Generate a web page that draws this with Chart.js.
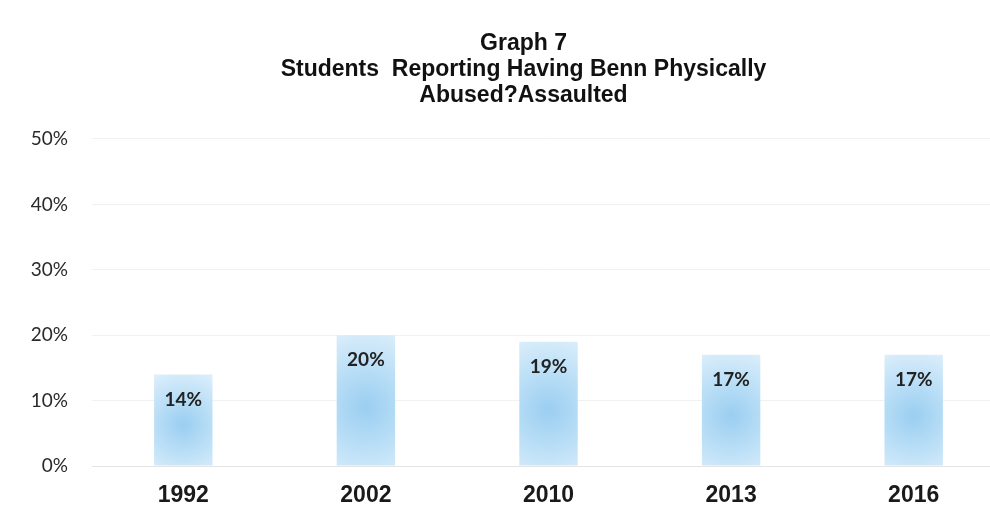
<!DOCTYPE html>
<html>
<head>
<meta charset="utf-8">
<script src="https://cdn.jsdelivr.net/npm/chart.js@4.4.1/dist/chart.umd.min.js"></script>
<style>
  html, body { margin: 0; padding: 0; background: #fff; overflow: hidden; }
  #wrap { width: 990px; height: 514px; overflow: hidden; }
</style>
</head>
<body>
<div id="wrap"><canvas id="graph7" width="1010" height="514"></canvas></div>
<script>
// Data
const years = ["1992", "2002", "2010", "2013", "2016"];
const percentReporting = [14, 20, 19, 17, 17];
const yTicks = [0, 10, 20, 30, 40, 50];

const titleLines = [
  "Graph 7",
  "Students  Reporting Having Benn Physically",
  "Abused?Assaulted",
];

// Soft blue glow for each bar, centred in the bar
function barFill(context) {
  const chart = context.chart;
  const x = chart.scales.x;
  const y = chart.scales.y;
  if (!x || !y || context.dataIndex === undefined) return "#bcdff6";
  const v = percentReporting[context.dataIndex];
  const cx = x.getPixelForValue(context.dataIndex);
  const top = y.getPixelForValue(v);
  const bottom = y.getPixelForValue(0);
  if (![cx, top, bottom].every(Number.isFinite) || bottom - top <= 0) return "#bcdff6";
  const cy = top + (bottom - top) * 0.55;
  const g = chart.ctx.createRadialGradient(cx, cy, 2, cx, cy, (bottom - top) * 0.65);
  g.addColorStop(0, "#9ccff1");
  g.addColorStop(0.5, "#bde0f7");
  g.addColorStop(1, "#e0f0fb");
  return g;
}

// Value labels just below the top of each bar
const valueLabels = {
  id: "valueLabels",
  afterDatasetsDraw(chart) {
    const ctx = chart.ctx;
    const meta = chart.getDatasetMeta(0);
    ctx.save();
    ctx.font = "bold 19px Lato, 'Open Sans', sans-serif";
    ctx.fillStyle = "#222";
    ctx.textAlign = "center";
    ctx.textBaseline = "middle";
    meta.data.forEach((bar, i) => {
      ctx.fillText(percentReporting[i] + "%", bar.x, bar.y + 25);
    });
    ctx.restore();
  },
};

// nudge the title to the right like in the original
const shiftTitle = {
  id: "shiftTitle",
  afterLayout(chart) {
    if (chart.titleBlock) {
      chart.titleBlock.left += 21;
      chart.titleBlock.right += 21;
    }
  },
};

const ctx = document.getElementById("graph7").getContext("2d");

const graph7 = new Chart(ctx, {
  type: "bar",
  data: {
    labels: years,
    datasets: [
      {
        label: "Students reporting",
        data: percentReporting,
        backgroundColor: barFill,
        borderWidth: 0,
        barPercentage: 0.32,
        categoryPercentage: 1,
      },
    ],
  },
  options: {
    responsive: false,
    animation: false,
    layout: { padding: { left: 0, right: 5, top: 0, bottom: 0 } },
    plugins: {
      legend: { display: false },
      tooltip: { enabled: false },
      title: {
        display: true,
        text: titleLines,
        color: "#111",
        font: { family: "'Liberation Sans', Arial, sans-serif", size: 23, weight: "bold", lineHeight: 1.13 },
        padding: { top: 31, bottom: 30 },
      },
    },
    scales: {
      x: {
        grid: { display: false },
        border: { display: true, color: "#e4e4e4" },
        ticks: {
          color: "#1a1a1a",
          padding: 8,
          font: { family: "'Liberation Sans', Arial, sans-serif", size: 23, weight: "bold" },
        },
        afterFit(scale) {
          scale.height = 48;
        },
      },
      y: {
        min: 0,
        max: 50,
        afterBuildTicks(scale) {
          scale.ticks = yTicks.map((v) => ({ value: v }));
        },
        grid: { color: "#f1f1f1", drawTicks: false },
        border: { display: false },
        ticks: {
          color: "#2a2a2a",
          padding: 24,
          font: { family: "Lato, 'Open Sans', sans-serif", size: 19 },
          callback: (v) => v + "%",
        },
        afterFit(scale) {
          scale.width = 92;
        },
      },
    },
  },
  plugins: [valueLabels, shiftTitle],
});
</script>
</body>
</html>
